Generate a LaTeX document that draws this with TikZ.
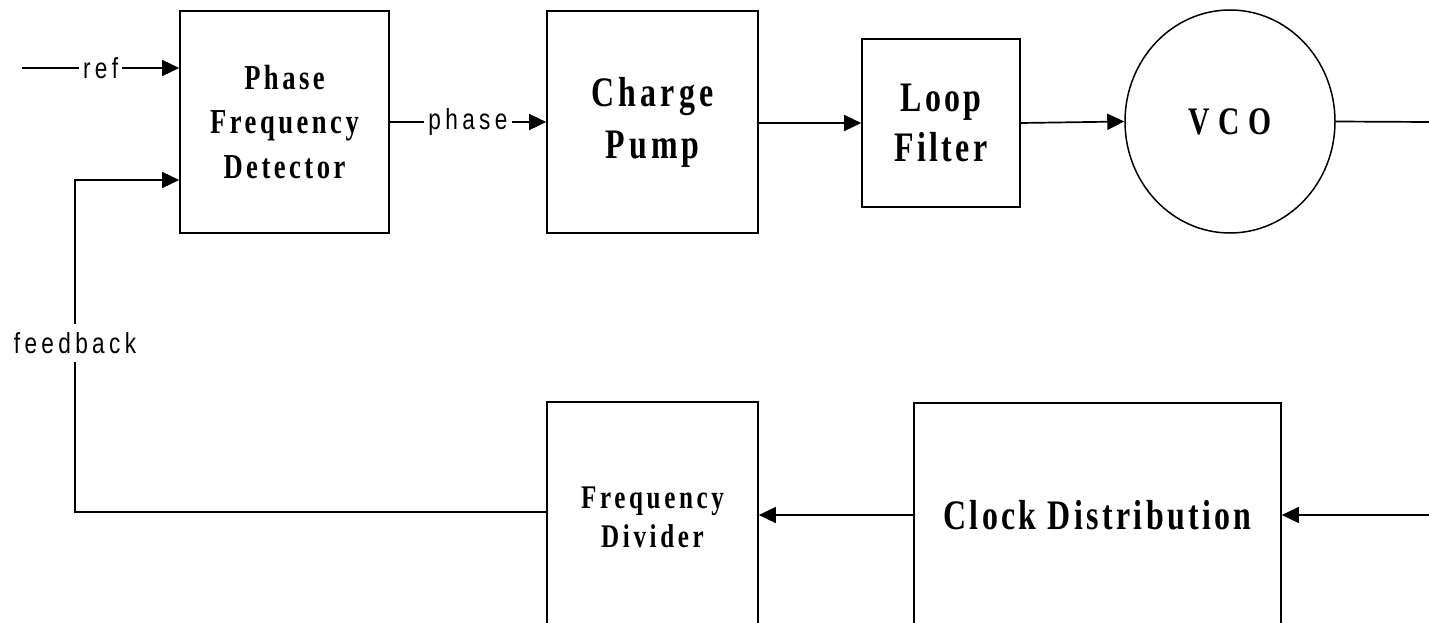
\documentclass[tikz,border=0pt]{standalone}
\usepackage{fontspec}
\usetikzlibrary{arrows.meta,shapes.geometric}
\newfontfamily\blkfont{Liberation Serif}[FakeStretch=0.76]
\newfontfamily\lblfont{Liberation Sans}[FakeStretch=0.78,LetterSpace=15]
\tikzset{
  blockbox/.style={draw,line width=1.7pt,inner sep=0pt,align=center},
  arr/.style={line width=1.7pt,-{Triangle[length=17pt,width=16pt]}},
  wire/.style={line width=1.7pt},
  sig/.style={fill=white,inner xsep=4pt,inner ysep=8pt,font=\lblfont\fontsize{29}{32}\selectfont}
}
\begin{document}
\begin{tikzpicture}[x=1pt,y=-1pt]
\useasboundingbox (0,0) rectangle (1429,623);
\clip (0,0) rectangle (1429,623);

% blocks
\node[blockbox,minimum width=209pt,minimum height=222pt,
      font=\blkfont\bfseries\addfontfeature{LetterSpace=10}\fontsize{35}{44.5}\selectfont]
  (pfd) at (284.5,122) {Phase\\Frequency\\Detector};
\node[blockbox,minimum width=211pt,minimum height=222pt,
      font=\blkfont\bfseries\addfontfeature{LetterSpace=10}\fontsize{42}{52}\selectfont]
  (cp) at (652.5,122) {Charge\\Pump};
\node[blockbox,minimum width=158pt,minimum height=168pt,
      font=\blkfont\bfseries\addfontfeature{LetterSpace=8}\fontsize{42}{50.7}\selectfont]
  (lf) at (941,123) {Loop\\Filter};
\node[draw,ellipse,line width=1.5pt,inner sep=0pt,minimum width=210pt,minimum height=223pt,
      font=\blkfont\bfseries\addfontfeature{LetterSpace=22}\fontsize{39}{44}\selectfont]
  (vco) at (1230,121.5) {VCO};
\node[blockbox,minimum width=211pt,minimum height=230pt,
      font=\blkfont\bfseries\addfontfeature{LetterSpace=11}\fontsize{33}{39}\selectfont]
  (fd) at (652.5,517) {Frequency\\Divider};
\node[blockbox,minimum width=367pt,minimum height=224pt,
      font=\blkfont\bfseries\addfontfeature{LetterSpace=8}\fontsize{42}{50}\selectfont]
  (clk) at (1097.5,515) {Clock Distribution};

% free ends
\coordinate (refin) at (22,68);
\coordinate (fbtop) at (75,180);
\coordinate (fbcorner) at (75,512);
\coordinate (vcoout) at (1429,122);
\coordinate (clkin) at (1429,515);

% connectors
\draw[arr] (refin) -- (pfd.west |- refin) node[sig,pos=0.5] {ref};
\draw[arr] (pfd.east) -- (cp.west) node[sig,pos=0.5] {phase};
\draw[arr] (cp.east |- 0,123) -- (lf.west |- 0,123);
\draw[arr] (lf.east |- 0,123) -- (vco.west);
\draw[wire] (vco.east) -- (vcoout);
\draw[arr] (clkin) -- (clk.east);
\draw[arr] (clk.west) -- (fd.east |- clk.west);
\draw[arr] (fd.west |- fbcorner) -- (fbcorner) -- (fbtop) -- (pfd.west |- fbtop);
\node[sig,inner xsep=2pt] (fblbl) at (75,343) {feedback};
\end{tikzpicture}
\end{document}
